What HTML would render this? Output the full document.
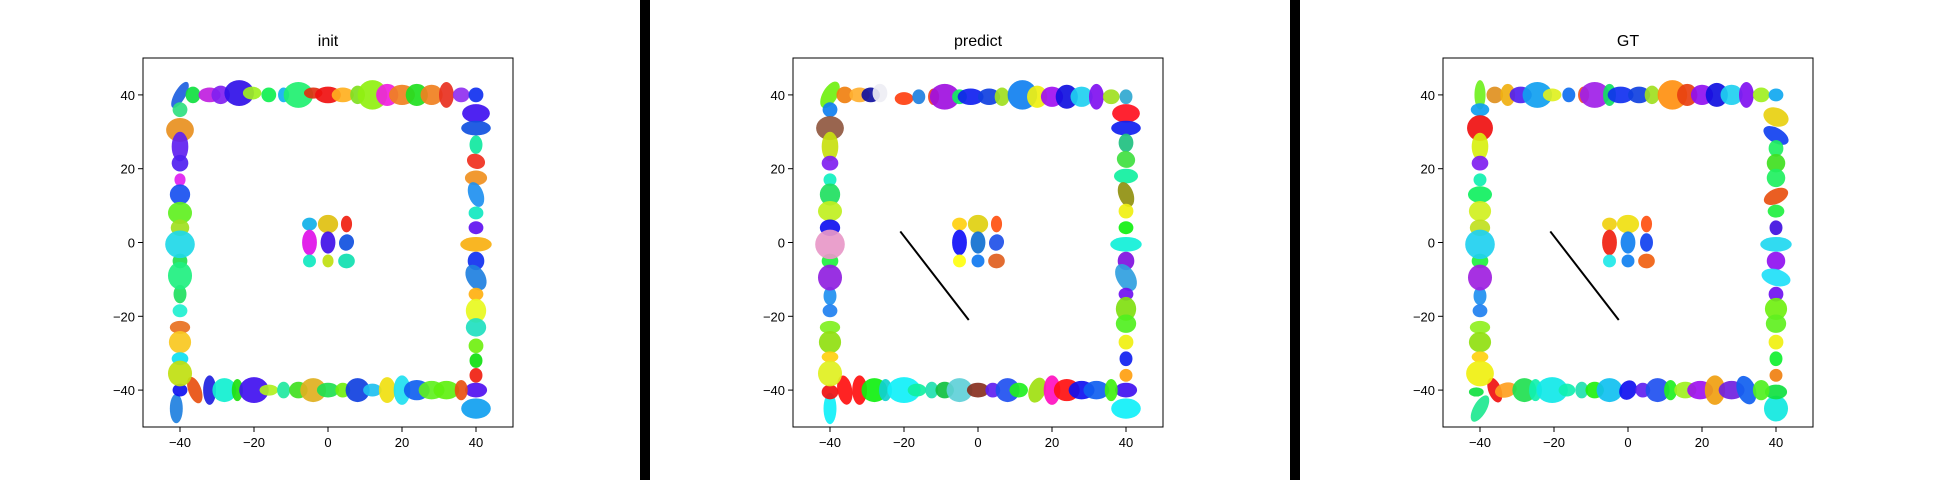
<!DOCTYPE html>
<html><head><meta charset="utf-8"><style>
body{margin:0;background:#fff;}
svg{display:block;font-family:"Liberation Sans",sans-serif;}
</style></head><body>
<svg id="fig" width="1940" height="480" xmlns="http://www.w3.org/2000/svg">
<rect x="0" y="0" width="1940" height="480" fill="#fff"/>
<rect x="640" y="0" width="10" height="480" fill="#000"/>
<rect x="1290" y="0" width="10" height="480" fill="#000"/>
</svg>
<script>
// data: [x, y, w, h, tilt, color] in data units
const initEllipses = [
[-40,40,3,8,30,'#1e60e0'],[-36.5,40,4,4.5,0,'#10e040'],[-32,40,6,4,0,'#c020e0'],[-29,40,5,5,0,'#8020f0'],[-24,40.5,8,7,0,'#3010e8'],[-20.5,40.5,5,3.5,0,'#a0f020'],[-16,40,4,4,0,'#10f050'],[-12,40,3,4,0,'#10b0f0'],[-8,40,8,7,0,'#20f070'],[-4,40.5,5,3,0,'#e03010'],[0,40,7,4.5,0,'#f01010'],[4,40,6,4,0,'#ffb020'],[8,40,4,5,0,'#80e020'],[12,40,8,8,0,'#90f010'],[16,40,6,6,0,'#f020e0'],[20,40,7,5.5,0,'#f08020'],[24,40,6,6,0,'#20e020'],[28,40,6,5.5,0,'#f08020'],[32,40,4,7,0,'#e83020'],[36,40,4.5,4,0,'#9030f0'],[40,40,4,4,0,'#1030f0'],
[40,35,7.5,5,0,'#4010f0'],[40,31,8,4,0,'#1050e0'],[40,26.5,3.5,5,0,'#10e8a0'],[40,22,5,4,20,'#f03020'],[40,17.5,6,4,0,'#f09020'],[40,13,4,7,-20,'#2090f0'],[40,8,4,3.5,0,'#10e8c0'],[40,4,4,3.5,0,'#6010f0'],[40,-0.5,8.5,4,0,'#f8b010'],[40,-5,4.5,5,0,'#1030f0'],[40,-9.5,5,7.5,-30,'#2080e0'],[40,-14,4,3.5,0,'#ffb010'],[40,-18.5,5.5,6.5,0,'#e8f820'],[40,-23,5.5,5,0,'#20e0c0'],[40,-28,4,4,0,'#70f010'],[40,-32,3.5,4,0,'#10e010'],[40,-36,3.5,4,0,'#f02010'],[40,-45,8,5.5,0,'#10a0f0'],[40,-40,6,4,0,'#5010f0'],
[-41,-45,3.5,8,0,'#2080e0'],[-40,-40,4,3.5,0,'#1010f0'],[-36,-40,3.5,7.5,-20,'#e85010'],[-32,-40,3.5,8,0,'#2020e0'],[-28,-40,6.5,6.5,0,'#10f0d0'],[-24.5,-40,3,6,0,'#20e010'],[-20,-40,8,7,0,'#4010f0'],[-16,-40,5,3,0,'#b0f020'],[-12,-40,3.5,4.5,0,'#20e8a0'],[-8,-40,5,4.5,0,'#40e020'],[-4,-40,7,6.5,0,'#e0b020'],[0,-40,6,4,0,'#20e050'],[4,-40,4,4,0,'#70f010'],[8,-40,6.5,6.5,0,'#1040e0'],[12,-40,5,3.5,0,'#20c0f0'],[16,-40,4.5,7,0,'#f0e010'],[20,-40,4.5,8,0,'#20e0f0'],[24,-40,7,5.5,0,'#1060f0'],[28,-40,7,5,0,'#60f020'],[32,-40,7,5,0,'#60f010'],[36,-40,3.5,5.5,0,'#e85010'],
[-40,36,4,4,20,'#30e080'],[-40,30.5,7.5,6.5,0,'#e89020'],[-40,26,4.5,8,0,'#6020f0'],[-40,21.5,4.5,4.5,0,'#5020f0'],[-40,17,3,3.5,0,'#e020f0'],[-40,13,5.5,5.5,0,'#1850f0'],[-40,8,6.5,6,0,'#60f020'],[-40,4,5,4.5,0,'#a0e020'],[-40,-5,4,4,0,'#20e050'],[-40,-0.5,8,7.5,0,'#20d8e8'],[-40,-14,3.5,5,0,'#20e060'],[-40,-9,6.5,7.5,0,'#20f080'],[-40,-18.5,4,3.5,0,'#20f0d0'],[-40,-23,5.5,3.5,0,'#e87020'],[-40,-27,6,6,0,'#f8c820'],[-40,-31.5,4.5,3.5,0,'#10e0f0'],[-40,-35.5,6.5,7,0,'#c0e010'],
[-5,5,4,3.5,0,'#10b0e8'],[0,5,5.5,5,0,'#e0c010'],[5,5,3,4.5,0,'#f02010'],[-5,0,4,7,0,'#e010e8'],[0,0,4,6,0,'#4010e8'],[5,0,4,4.5,20,'#1050e0'],[-5,-5,3.5,3.5,0,'#10e8c0'],[0,-5,3,3.5,0,'#c0e010'],[5,-5,4.5,4,0,'#10e0b0']
];
const predictEllipses = [
[-40,40,4,8,30,'#70f010'],[-36,40,4.5,4.5,0,'#f08010'],[-32,40,5.5,4,0,'#ffb030'],[-29,40,5,4,0,'#1010a0'],[-26.5,40.5,4,5,0,'#eeeef4'],[-20,39,5,3.5,0,'#ff4010'],[-16,39.5,3.5,4,0,'#2080e0'],[-12,39.5,3,4.5,0,'#f04020'],[-9,39.5,8,7,0,'#a010e0'],[-5,39.5,4,4,0,'#10f060'],[-2,39.5,7,4.5,0,'#1020f0'],[3,39.5,6,4.5,0,'#1040e0'],[6.5,39.5,4,5,0,'#a0e020'],[12,40,8,8,0,'#1080f0'],[16,39.5,5.5,6,0,'#f0f010'],[20,39.5,6,5.5,0,'#a010f0'],[24,39.5,6,6.5,0,'#1010e0'],[28,39.5,6,5.5,0,'#20d0f0'],[32,39.5,4,7,0,'#8010f0'],[36,39.5,4.5,4,0,'#a0e020'],[40,39.5,3.5,4,0,'#30a8d0'],
[40,35,7.5,5,0,'#ff1020'],[40,31,8,4,0,'#1020f0'],[40,27,4,5,0,'#20c080'],[40,22.5,5,4.5,20,'#40e040'],[40,18,6.5,4,0,'#10f0a0'],[40,13,4,7,-20,'#909010'],[40,8.5,4,4,0,'#f0f010'],[40,4,4,3.5,0,'#10f010'],[40,-0.5,8.5,4,0,'#10f0d8'],[40,-5,4.5,5,0,'#8010e0'],[40,-9.5,5,8,-30,'#30a0e0'],[40,-14,4,3.5,0,'#7010f0'],[40,-18,5.5,6.5,0,'#80e010'],[40,-22,5.5,5,0,'#50f020'],[40,-27,4,4,0,'#f0f010'],[40,-31.5,3.5,4,0,'#1020f0'],[40,-36,3.5,3.5,0,'#ffa010'],[40,-45,8,5.5,0,'#10f0f8'],[40,-40,6,4,0,'#4010f0'],
[-40,-45,3.5,8.5,0,'#10f0f8'],[-40,-40.5,4.5,4,0,'#f01010'],[-36,-40,4,8,-10,'#ff1010'],[-32,-40,4,8,0,'#ff1010'],[-28,-40,7,6.5,0,'#10f010'],[-25,-40,3.5,6,0,'#10d0d0'],[-20,-40,9,7,0,'#10f0f8'],[-16.5,-40,5,3.5,0,'#10f0a0'],[-12.5,-40,3.5,4.5,0,'#20e0b0'],[-9,-40,5,4.5,0,'#10c040'],[-5,-40,7,6.5,0,'#60d0d8'],[0,-40,6,4,0,'#883020'],[4,-40,4,4,0,'#6020f0'],[8,-40,6.5,6.5,0,'#2050f0'],[11,-40,5,4,0,'#20f020'],[16,-40,4.5,7,20,'#a0e010'],[20,-40,4.5,8,0,'#ff10c0'],[24,-40,7,6,0,'#ff1010'],[28,-40,7,5,0,'#1010f0'],[32,-40,7,5,0,'#1060f0'],[36,-40,3.5,6,0,'#40f010'],
[-40,36,4,4,20,'#1080f0'],[-40,31,7.5,6.5,0,'#905840'],[-40,26,4.5,8,0,'#c8e010'],[-40,21.5,4.5,4,0,'#8020f0'],[-40,17,3.5,3.5,0,'#10f0c0'],[-40,13,5.5,6,0,'#20e060'],[-40,8.5,6.5,5.5,0,'#c0f020'],[-40,4,5.5,4.5,0,'#1010f0'],[-40,-5,4.5,4,0,'#20f040'],[-40,-0.5,8,8,0,'#e898c8'],[-40,-14.5,3.5,5,0,'#2090f0'],[-40,-9.5,6.5,7,0,'#9020e0'],[-40,-18.5,4,3.5,0,'#2080f0'],[-40,-23,5.5,3.5,0,'#80f020'],[-40,-27,6,6,0,'#90e010'],[-40,-31,4.5,3,0,'#ffd010'],[-40,-35.5,6.5,7,0,'#e0f020'],
[-5,5,4,3.5,0,'#ffd010'],[0,5,5.5,5,0,'#e0d010'],[5,5,3,4.5,0,'#ff5010'],[-5,0,4,7,0,'#1010f8'],[0,0,4,6,0,'#1070d0'],[5,0,4,4.5,20,'#2050e8'],[-5,-5,3.5,3.5,0,'#ffff10'],[0,-5,3.5,3.5,0,'#1078f0'],[5,-5,4.5,4,0,'#e06020']
];
const gtEllipses = [
[-40,40,3,8,0,'#70f020'],[-36,40,4.5,4.5,0,'#e09020'],[-32.5,40,4,6,0,'#f0b010'],[-29,40,6,4.5,0,'#5020f0'],[-24.5,40,8,7,0,'#10a0f0'],[-20.5,40,5,3.5,0,'#e0f020'],[-16,40,3.5,4,0,'#1070f0'],[-12,40,3,4.5,0,'#f05020'],[-9,40,8,7,0,'#a020e8'],[-5,40,3.5,6,0,'#10e060'],[-2,40,7,4.5,0,'#1030f0'],[3,40,6,4.5,0,'#1040e0'],[6.5,40,4,5,0,'#a0e020'],[12,40,8,8,0,'#ff9010'],[16,40,5.5,6,0,'#e84010'],[20,40,6,5.5,0,'#9010f0'],[24,40,6,6.5,0,'#1010e0'],[28,40,6,5.5,0,'#20d0f0'],[32,40,4,7,0,'#8010f0'],[36,40,4.5,4,0,'#a0f020'],[40,40,4,3.5,0,'#10a8f0'],
[40,34,7,5,20,'#e8d010'],[40,29,7.5,4,30,'#1040f0'],[40,25.5,4,4.5,0,'#20f060'],[40,21.5,5,5,0,'#40e020'],[40,17.5,5,5,20,'#20f060'],[40,12.5,7,4,-25,'#e85010'],[40,8.5,4.5,3.5,0,'#20f040'],[40,4,3.5,4,0,'#4010e0'],[40,-0.5,8.5,4,0,'#20d8f0'],[40,-5,5,5,0,'#9010f0'],[40,-9.5,8,4.5,15,'#20e0f8'],[40,-14,4,4,0,'#7010f0'],[40,-18,6,6,0,'#70f010'],[40,-22,5.5,5,0,'#60f020'],[40,-27,4,4,0,'#f0f010'],[40,-31.5,3.5,4,0,'#10f030'],[40,-36,3.5,3.5,0,'#f08010'],[40,-45,6.5,7,0,'#10e8e0'],[40,-40.5,6,4,0,'#10e040'],
[-40,-45,3.5,8,30,'#20e890'],[-41,-40.5,4,2.5,0,'#10e040'],[-36,-40,3.5,7,-20,'#f01010'],[-33,-40,6,4,-15,'#ffa020'],[-28,-40,6.5,6.5,0,'#20e050'],[-25,-40,3.5,6,0,'#10f0b0'],[-20.5,-40,8.5,7,0,'#10e8e8'],[-16.5,-40,4.5,3.5,0,'#10f0b0'],[-12.5,-40,3.5,4.5,0,'#20e0b0'],[-9,-40,5,4.5,0,'#20f010'],[-5,-40,7,6.5,0,'#10c0f0'],[0,-40,4.5,5.5,30,'#1010f0'],[4,-40,4,4,0,'#6020f0'],[8,-40,6.5,6.5,0,'#2050f0'],[11.5,-40,3.5,5.5,0,'#20f020'],[15.5,-40,6,4.5,0,'#a0f020'],[19.5,-40,7,5,0,'#a010f0'],[23.5,-40,5.5,8,0,'#f0a010'],[28,-40,7,5,0,'#7020e0'],[32,-40,5,8,-20,'#1060f0'],[36,-40,4.5,5.5,0,'#50f020'],
[-40,36,5,3.5,0,'#10a0f0'],[-40,31,7,7,0,'#f01010'],[-40,26,4.5,7.5,0,'#d8f010'],[-40,21.5,4.5,4,0,'#8020f0'],[-40,17,3.5,3.5,0,'#10f0b0'],[-40,13,6.5,4.5,0,'#10f060'],[-40,8.5,6,5.5,0,'#d0f020'],[-40,4,5.5,4.5,0,'#c0e020'],[-40,-5,4.5,4,0,'#20f040'],[-40,-0.5,8,8,0,'#20d0f0'],[-40,-14.5,3.5,5,0,'#2090f0'],[-40,-9.5,6.5,7,0,'#a020e0'],[-40,-18.5,4,3.5,0,'#2080f0'],[-40,-23,5.5,3.5,0,'#90f020'],[-40,-27,6,5.5,0,'#90e010'],[-40,-31,4.5,3,0,'#ffd010'],[-40,-35.5,7.5,7,0,'#f0f010'],
[-5,5,4,3.5,0,'#f0d010'],[0,5,6,5,0,'#f0e010'],[5,5,3,4.5,0,'#ff5010'],[-5,0,4,7,0,'#f02010'],[0,0,4,6,0,'#1080f0'],[5,0,3.5,5,0,'#1040f0'],[-5,-5,3.5,3.5,0,'#20e8e8'],[0,-5,3.5,3.5,0,'#1080f0'],[5,-5,4.5,4,0,'#f06010']
];
const titles = ['init','predict','GT'];
const tickValues = [-40,-20,0,20,40];
const lineStart = [-21, 3];
const lineEnd = [-2.5, -21];

const NS='http://www.w3.org/2000/svg';
const svgRoot=document.getElementById('fig');
const panels=[initEllipses,predictEllipses,gtEllipses];
const panelNames=['init','predict','gt'];
const plotTop=58, plotH=369, plotW=370;
function mk(tag,attrs,parent){const e=document.createElementNS(NS,tag);for(const k in attrs)e.setAttribute(k,attrs[k]);parent.appendChild(e);return e;}
panels.forEach((data,p)=>{
  const left=143+650*p;
  const sx=v=>left+(v+50)/100*plotW;
  const sy=v=>plotTop+(50-v)/100*plotH;
  const kx=plotW/100, ky=plotH/100;
  const g=mk('g',{},svgRoot);
  
  
  const t=mk('text',{x:left+plotW/2,y:plotTop-12,'text-anchor':'middle','font-size':'16'},g);
  t.textContent=titles[p];
  
  
  const eg=mk('g',{},g);
  
  
  data.forEach(d=>{
    const cx=sx(d[0]), cy=sy(d[1]);
    const el=mk('ellipse',{cx:cx,cy:cy,rx:d[2]*kx/2,ry:d[3]*ky/2,fill:d[5],'fill-opacity':0.92,transform:'rotate('+d[4]+' '+cx+' '+cy+')'},eg);
    
    
  });
  if(p>0){
    const ln=mk('line',{x1:sx(lineStart[0]),y1:sy(lineStart[1]),x2:sx(lineEnd[0]),y2:sy(lineEnd[1]),stroke:'#000','stroke-width':2},g);
    
    
  }
  const fr=mk('rect',{x:left,y:plotTop,width:plotW,height:plotH,fill:'none',stroke:'#000','stroke-width':1},g);
  
  
  tickValues.forEach(v=>{
    const x=sx(v), y=sy(v);
    mk('line',{x1:x,y1:plotTop+plotH,x2:x,y2:plotTop+plotH+5,stroke:'#000'},g);
    const tx=mk('text',{x:x,y:plotTop+plotH+20,'text-anchor':'middle','font-size':'13'},g);
    tx.textContent=v<0?'\u2212'+(-v):String(v);
    
    
    mk('line',{x1:left-5,y1:y,x2:left,y2:y,stroke:'#000'},g);
    const ty=mk('text',{x:left-8,y:y+5,'text-anchor':'end','font-size':'13'},g);
    ty.textContent=v<0?'\u2212'+(-v):String(v);
    
    
  });
});
</script>
</body></html>
